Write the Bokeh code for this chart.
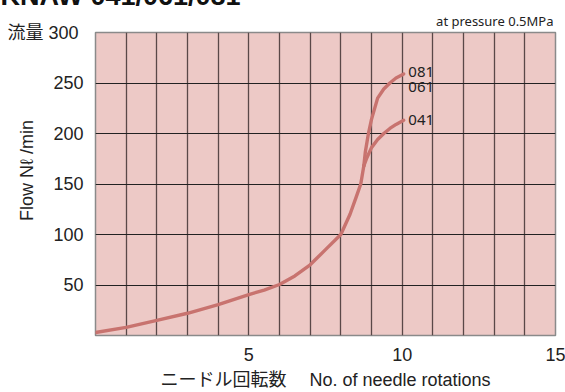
from bokeh.plotting import figure
from bokeh.models import Range1d, FixedTicker, Label, Title
from bokeh.embed import file_html
from bokeh.resources import INLINE

# ---- data ----
common_x = [0, 1, 2, 3, 4, 5, 5.5, 6, 6.5, 7, 7.5, 8, 8.3, 8.5, 8.65, 8.75]
common_y = [3, 8, 15, 22, 30.5, 40.5, 45, 50.5, 59, 70, 85, 100, 120, 137, 150, 168]

branch_081_x = [8.75, 8.8, 8.9, 9.0, 9.2, 9.4, 9.6, 9.8, 10.05]
branch_081_y = [168, 182, 200, 214, 235, 244, 250, 255, 259]

branch_041_x = [8.75, 8.85, 9.0, 9.2, 9.4, 9.6, 9.8, 10.05]
branch_041_y = [168, 176, 186, 194, 200, 205, 209, 213]

curve_labels = ["081", "061", "041"]
x_ticks = [5, 10, 15]
y_ticks = [50, 100, 150, 200, 250, 300]
x_grid = list(range(1, 15))
y_grid = [50, 100, 150, 200, 250]

title_text = "KNAW 041/061/081"
note_text = "at pressure 0.5MPa"
y_unit_jp = "流量"
y_label = "Flow Nℓ /min"
x_label = "ニードル回転数\u3000 No. of needle rotations"

BG = "#EDC9C6"
CURVE = "#C8736F"
LATIN = "Liberation Sans, 'Noto Sans CJK JP'"

SHIFT = 24  # canvas starts this many px above the page top

p = figure(width=565, height=392 + SHIFT, output_backend="svg", toolbar_location=None,
           x_range=Range1d(0, 15), y_range=Range1d(0, 300),
           min_border_left=95, min_border_right=10, min_border_top=32 + SHIFT,
           min_border_bottom=56)
p.styles = {"position": "absolute", "left": "0px", "top": f"-{SHIFT}px"}
p.background_fill_color = BG
p.border_fill_color = "white"
p.outline_line_color = "#8a8a8a"
p.outline_line_width = 1.5

# main title (outermost) and pressure note (next to the frame)
p.title.text = title_text
p.title.align = "left"
p.title.offset = -95
p.title.standoff = -6
p.title.text_font = "Liberation Sans"
p.title.text_font_size = "27px"
p.title.text_font_style = "bold"
p.title.text_color = "#111111"
p.add_layout(Title(text=note_text, align="right", offset=2, standoff=5,
                   text_font="Noto Sans", text_font_size="13px",
                   text_font_style="normal", text_color="#222222"), "above")

p.xgrid.ticker = FixedTicker(ticks=x_grid)
p.ygrid.ticker = FixedTicker(ticks=y_grid)
p.xgrid.grid_line_color = "#5a4848"
p.ygrid.grid_line_color = "#222222"
p.xgrid.grid_line_width = 1.3
p.ygrid.grid_line_width = 1.2

for ax in (p.xaxis[0], p.yaxis[0]):
    ax.axis_line_color = None
    ax.major_tick_line_color = None
    ax.minor_tick_line_color = None
    ax.major_label_text_font = LATIN
    ax.major_label_text_font_size = "18px"
    ax.major_label_text_color = "#222222"
    ax.axis_label_text_font = LATIN
    ax.axis_label_text_font_size = "18px"
    ax.axis_label_text_font_style = "normal"
    ax.axis_label_text_color = "#222222"

p.xaxis.ticker = FixedTicker(ticks=x_ticks)
p.yaxis.ticker = FixedTicker(ticks=y_ticks)
# the unit "流量" sits left of the top tick value
p.yaxis.major_label_overrides = {y_ticks[-1]: f"{y_unit_jp}  {y_ticks[-1]}"}
p.xaxis.major_label_standoff = 6
p.yaxis.major_label_standoff = 6
p.xaxis.axis_label = x_label
# leading en-spaces lift the rotated label a little above the frame centre, as in the reference
p.yaxis.axis_label = "\u2002\u2002\u2002" + y_label
p.xaxis.axis_label_standoff = 6
p.yaxis.axis_label_standoff = -33

for xs, ys in ((common_x, common_y), (branch_081_x, branch_081_y), (branch_041_x, branch_041_y)):
    p.line(xs, ys, line_color=CURVE, line_width=3.4, line_join="round", line_cap="round")

# curve labels
label_y = [branch_081_y[-1] + 2, branch_081_y[-1] - 13, branch_041_y[-1]]
for txt, yv in zip(curve_labels, label_y):
    p.add_layout(Label(x=10.2, y=yv, text=txt, text_font="Noto Sans", text_font_size="15px",
                       text_color="#222222", text_baseline="middle", text_align="left"))

open("out.html", "w").write(file_html(p, INLINE))
